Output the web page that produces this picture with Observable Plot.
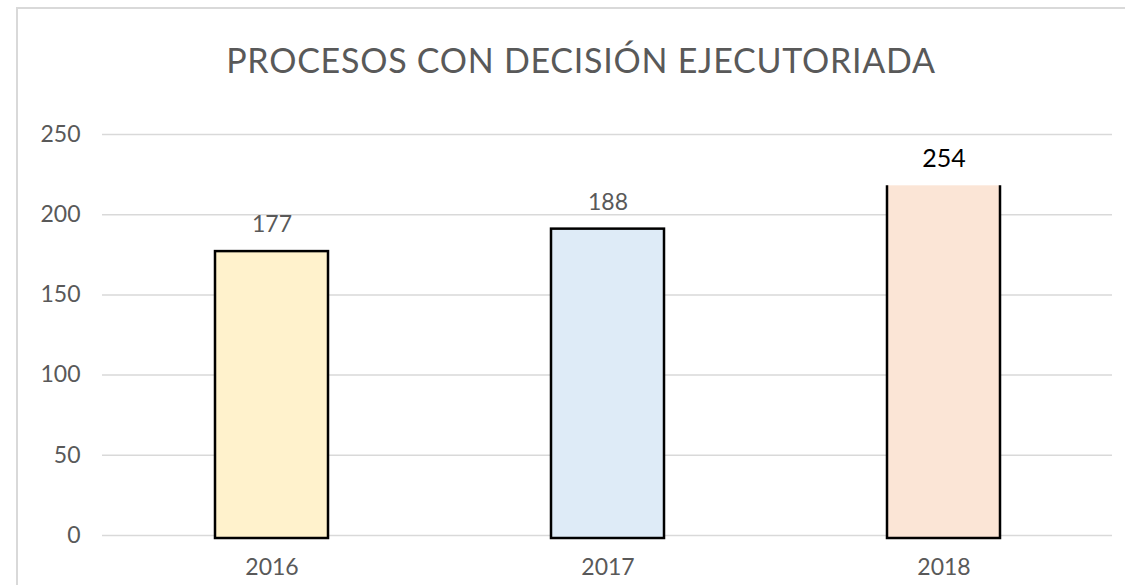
<!DOCTYPE html>
<html>
<head>
<meta charset="utf-8">
<script src="https://cdn.jsdelivr.net/npm/d3@7"></script>
<script src="https://cdn.jsdelivr.net/npm/@observablehq/plot@0.6"></script>
<style>
  html, body { margin: 0; padding: 0; background: #fff; overflow: hidden; width: 1125px; height: 585px; }
  #wrap { position: relative; width: 1125px; height: 585px; overflow: hidden; }
  #frameTop { position: absolute; left: 16px; top: 7px; width: 1109px; height: 2px; background: #d9d9d9; }
  #frameLeft { position: absolute; left: 16px; top: 7px; width: 2px; height: 578px; background: #d9d9d9; }
  #title { height: 100px; box-sizing: border-box; padding-top: 43px; padding-left: 37px;
           font-family: Lato, "Open Sans", sans-serif; font-weight: 400; font-size: 34px; line-height: 34px;
           letter-spacing: 0.75px; color: #595959; text-align: center; white-space: nowrap; }
  #chart svg { display: block; }
</style>
</head>
<body>
<div id="wrap">
  <div id="frameTop"></div>
  <div id="frameLeft"></div>
  <div id="title">PROCESOS CON DECISIÓN EJECUTORIADA</div>
  <div id="chart"></div>
</div>
<script>
const years = ["2016", "2017", "2018"];
const barHeights = [177, 191, 218];
const valueLabels = ["177", "188", "254"];
const barColors = ["#FFF2CC", "#DEEBF7", "#FBE5D6"];
const yTicks = [0, 50, 100, 150, 200, 250];

const data = years.map((year, i) => ({ year, value: barHeights[i], label: valueLabels[i], color: barColors[i] }));

const chart = Plot.plot({
  width: 1125,
  height: 485,
  marginTop: 34,
  marginBottom: 50,
  marginLeft: 102,
  marginRight: 13,
  style: { fontFamily: "Lato, 'Open Sans', sans-serif", fontSize: "23px", color: "#595959", background: "transparent" },
  x: { domain: years, paddingInner: 0.664, paddingOuter: 0.332, label: null, tickSize: 0, tickPadding: 23 },
  y: { domain: [0, 250], ticks: yTicks, label: null, tickSize: 0, tickPadding: 22 },
  color: { type: "identity" },
  marks: [
    Plot.ruleY(yTicks, { stroke: "#d9d9d9", strokeWidth: 1.5 }),
    Plot.barY(data, { x: "year", y: "value", fill: "color", stroke: "#000", strokeWidth: 2.5, insetBottom: -3 }),
    Plot.text(data.filter(d => d.year !== "2018"), { x: "year", y: "value", text: "label", dy: -27, fill: "#595959", fontSize: 23 }),
    Plot.text(data.filter(d => d.year === "2018"), { x: "year", y: "value", text: "label", dy: -27, fill: "#000", fontSize: 25 })
  ]
});

document.getElementById("chart").appendChild(chart);

// 2018 bar: its top border is hidden (label box overlaps it in the original)
const rects = chart.querySelectorAll('g[aria-label="bar"] rect');
if (rects.length === 3) {
  const r = rects[2];
  const w = +r.getAttribute("width"), h = +r.getAttribute("height");
  r.setAttribute("stroke-dasharray", `0 ${w} ${w + 2 * h + 10}`);
}

// white label box behind "254" interrupting the top gridline
const labelEl = Array.from(chart.querySelectorAll("text")).find(t => t.textContent === valueLabels[2]);
const barGroup = chart.querySelector('g[aria-label="bar"]');
if (labelEl && barGroup) {
  const b = labelEl.getBBox();
  const cx = b.x + b.width / 2, cy = b.y + b.height / 2;
  const box = document.createElementNS("http://www.w3.org/2000/svg", "rect");
  box.setAttribute("x", cx - 52);
  box.setAttribute("y", cy - 32);
  box.setAttribute("width", 149);
  box.setAttribute("height", 52);
  box.setAttribute("fill", "#fff");
  barGroup.parentNode.insertBefore(box, barGroup);
}
</script>
</body>
</html>
